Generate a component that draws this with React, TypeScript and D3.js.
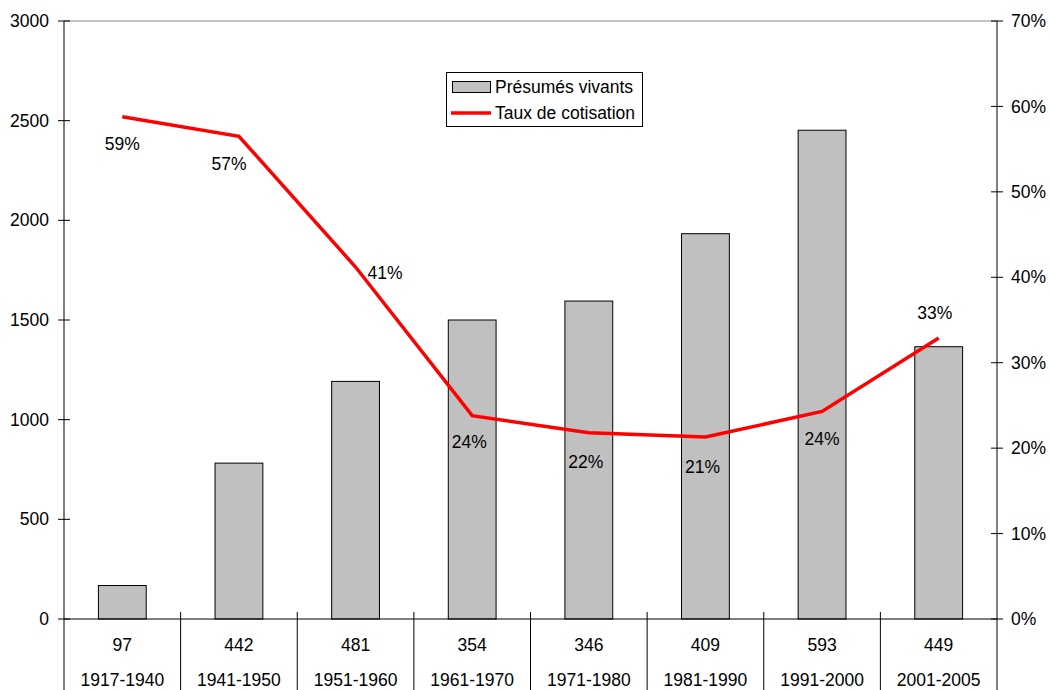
import React from "react";
import * as d3 from "d3";

const categories = ["1917-1940", "1941-1950", "1951-1960", "1961-1970", "1971-1980", "1981-1990", "1991-2000", "2001-2005"];
const tableValues = ["97", "442", "481", "354", "346", "409", "593", "449"];
const presumesVivants = [168, 782, 1192, 1500, 1595, 1933, 2452, 1366];
const tauxCotisation = [0.588, 0.565, 0.412, 0.238, 0.218, 0.213, 0.243, 0.329];
const tauxLabels = ["59%", "57%", "41%", "24%", "22%", "21%", "24%", "33%"];
const leftTicks = [0, 500, 1000, 1500, 2000, 2500, 3000];
const rightTicks = [0, 0.1, 0.2, 0.3, 0.4, 0.5, 0.6, 0.7];

// label layout: [dx, dy, anchor]
const labelLayout: [number, number, string][] = [
  [0, 27, "middle"],
  [-10, 28, "middle"],
  [12, 6, "start"],
  [-3, 26, "middle"],
  [-3, 29, "middle"],
  [-3, 30, "middle"],
  [0, 27, "middle"],
  [-4, -25, "middle"],
];

const W = 1050, H = 690;
const left = 64, right = 997, top = 21, bottom = 619;
const font = "'Liberation Sans', Arial, sans-serif";
const fs = 17.5;

export default function App() {
  const x = d3.scaleBand().domain(categories).range([left, right]).paddingInner(0.59).paddingOuter(0.295);
  const band = d3.scaleBand().domain(categories).range([left, right]);
  const yL = d3.scaleLinear().domain([0, 3000]).range([bottom, top]);
  const yR = d3.scaleLinear().domain([0, 0.7]).range([bottom, top]);
  const cx = (i: number) => band(categories[i])! + band.bandwidth() / 2;
  const line = d3.line<number>()
    .x((_, i) => cx(i))
    .y((d) => yR(d));

  return (
    <div style={{ position: "absolute", left: 0, top: 0 }}>
      <svg width={W} height={H} style={{ display: "block", fontFamily: font }}>
        <rect width={W} height={H} fill="#fff" />
        <line x1={left} x2={right} y1={top} y2={top} stroke="#888" strokeWidth={1} />
        {presumesVivants.map((v, i) => (
          <rect key={i} x={x(categories[i])} y={yL(v)} width={x.bandwidth()} height={bottom - yL(v)}
            fill="#c0c0c0" stroke="#000" strokeWidth={1} />
        ))}
        <line x1={left} x2={left} y1={top} y2={H} stroke="#000" />
        <line x1={right} x2={right} y1={top} y2={H} stroke="#000" />
        <line x1={left} x2={right} y1={bottom} y2={bottom} stroke="#000" />
        {leftTicks.map((t) => (
          <g key={t}>
            <line x1={left - 6} x2={left + 6} y1={yL(t)} y2={yL(t)} stroke="#000" />
            <text x={left - 15} y={yL(t)} dy="0.35em" textAnchor="end" fontSize={fs}>{t}</text>
          </g>
        ))}
        {rightTicks.map((t) => (
          <g key={t}>
            <line x1={right - 6} x2={right + 6} y1={yR(t)} y2={yR(t)} stroke="#000" />
            <text x={right + 14} y={yR(t)} dy="0.35em" textAnchor="start" fontSize={fs}>{d3.format(".0%")(t)}</text>
          </g>
        ))}
        {categories.slice(1).map((c) => (
          <line key={c} x1={band(c)} x2={band(c)} y1={bottom - 7} y2={H} stroke="#000" />
        ))}
        {categories.map((c, i) => (
          <g key={c}>
            <text x={cx(i)} y={645} dy="0.35em" textAnchor="middle" fontSize={fs}>{tableValues[i]}</text>
            <text x={cx(i)} y={680} dy="0.35em" textAnchor="middle" fontSize={fs}>{c}</text>
          </g>
        ))}
        <path d={line(tauxCotisation) || ""} fill="none" stroke="#ff0000" strokeWidth={3.5} strokeLinejoin="miter" />
        {tauxCotisation.map((v, i) => {
          const [dx, dy, anchor] = labelLayout[i];
          return (
            <text key={i} x={cx(i) + dx} y={yR(v) + dy} dy="0.35em"
              textAnchor={anchor as any} fontSize={fs}>{tauxLabels[i]}</text>
          );
        })}
        <g>
          <rect x={446.5} y={72.5} width={196} height={54} fill="#fff" stroke="#000" />
          <rect x={452.5} y={81.5} width={38} height={11} fill="#c0c0c0" stroke="#000" />
          <text x={495} y={87} dy="0.35em" fontSize={fs}>Présumés vivants</text>
          <line x1={451} x2={491} y1={113} y2={113} stroke="#ff0000" strokeWidth={3.5} />
          <text x={495} y={113} dy="0.35em" fontSize={fs}>Taux de cotisation</text>
        </g>
      </svg>
    </div>
  );
}
